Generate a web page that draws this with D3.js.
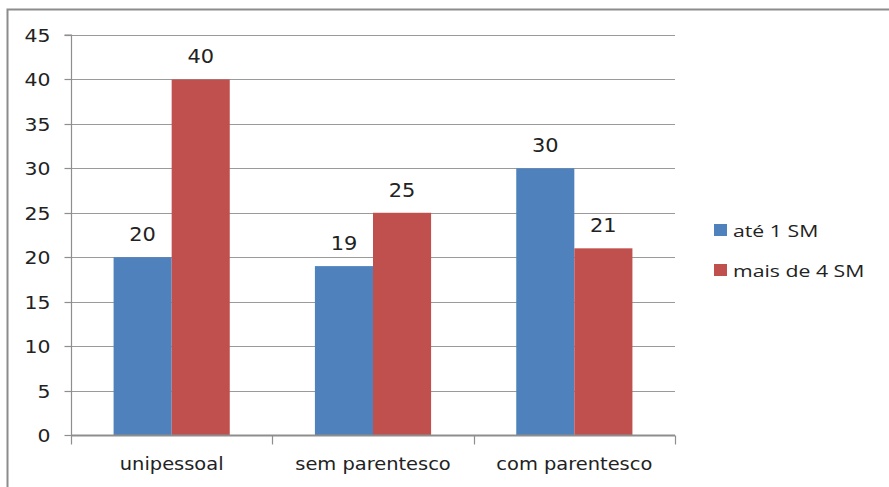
<!DOCTYPE html>
<html><head><meta charset="utf-8">
<script src="https://cdn.jsdelivr.net/npm/d3@7/dist/d3.min.js"></script>
<style>body{margin:0;background:#fff}svg{display:block}</style>
</head><body>
<script>
const categories = ["unipessoal", "sem parentesco", "com parentesco"];
const seriesNames = ["até 1 SM", "mais de 4 SM"];
const ate1SM = [20, 19, 30];
const mais4SM = [40, 25, 21];
const yTicks = [0, 5, 10, 15, 20, 25, 30, 35, 40, 45];
const colors = ["#4F81BD", "#C0504D"];

(function () {
const W = 889, H = 487;
const svg = d3.select("body").append("svg").attr("width", W).attr("height", H);

// frame
svg.append("path").attr("d", `M7.5,${H}V9.5H${W}`).attr("fill", "none")
  .attr("stroke", "#8c8c8c").attr("stroke-width", 2);

const pL = 71, pR = 675, pT = 35, pB = 435;
const x0 = d3.scaleBand().domain(categories).range([pL, pR]).paddingInner(0.423).paddingOuter(0.2115);
const x1 = d3.scaleBand().domain(seriesNames).range([0, x0.bandwidth()]);
const y = d3.scaleLinear().domain([0, 45]).range([pB, pT]);
const xCat = d3.scaleBand().domain(categories).range([pL, pR]);

// stretched text helper (the reference is horizontally stretched)
function stretch(sel, sx) {
  sel.each(function () {
    const t = d3.select(this);
    const x = +t.attr("x") || 0;
    t.attr("x", x / sx).attr("transform", `scale(${sx},1)`);
  });
}

// gridlines
svg.append("g").selectAll("line").data(yTicks.filter(d => d > 0)).join("line")
  .attr("x1", pL).attr("x2", pR)
  .attr("y1", d => Math.round(y(d)) + 0.5).attr("y2", d => Math.round(y(d)) + 0.5)
  .attr("stroke", "#9a9a9a").attr("stroke-width", 1.2);

// y axis
const yAxis = svg.append("g").attr("transform", `translate(${pL + 0.5},0)`)
  .call(d3.axisLeft(y).tickValues(yTicks).tickSize(7).tickPadding(14));
yAxis.select(".domain").attr("stroke", "#8e8e8e").attr("stroke-width", 1.2).attr("d", `M-7,${pT}H0V${pB}`);
yAxis.selectAll(".tick line").attr("stroke", "#8e8e8e").attr("stroke-width", 1.2);
yAxis.selectAll(".tick").attr("transform", d => `translate(0,${Math.round(y(d)) + 0.5})`);
yAxis.selectAll("text").attr("font-family", "DejaVu Sans").attr("font-size", 17).attr("fill", "#222")
  .attr("dy", "0.36em");
yAxis.selectAll("text").call(stretch, 1.2);

// bars
const data = categories.map((c, i) => ({cat: c, vals: [ate1SM[i], mais4SM[i]]}));
const groups = svg.append("g").selectAll("g").data(data).join("g")
  .attr("transform", d => `translate(${x0(d.cat)},0)`);
groups.selectAll("rect").data(d => d.vals.map((v, j) => ({s: seriesNames[j], v, j}))).join("rect")
  .attr("x", d => x1(d.s)).attr("width", x1.bandwidth())
  .attr("y", d => y(d.v)).attr("height", d => pB - y(d.v))
  .attr("fill", d => colors[d.j]);
groups.selectAll("text").data(d => d.vals.map((v, j) => ({s: seriesNames[j], v, j}))).join("text")
  .attr("x", d => x1(d.s) + x1.bandwidth() / 2).attr("y", d => y(d.v) - 16)
  .attr("text-anchor", "middle").attr("font-family", "DejaVu Sans").attr("font-size", 19)
  .attr("fill", "#222").text(d => d.v)
  .call(stretch, 1.1);

// x axis
const xAxis = svg.append("g").attr("transform", `translate(0,${pB + 0.5})`)
  .call(d3.axisBottom(xCat).tickSize(0).tickPadding(0));
xAxis.select(".domain").attr("stroke", "#8e8e8e").attr("stroke-width", 2).attr("d", `M${pL},0H${pR}`);
xAxis.selectAll("text").attr("font-family", "Liberation Sans Narrow, DejaVu Sans Condensed, sans-serif")
  .attr("font-size", 18).attr("fill", "#222").attr("dy", null).attr("y", 35)
  .call(stretch, 1.2);
xAxis.append("g").selectAll("line").data([0, 1, 2, 3]).join("line")
  .attr("x1", i => Math.round(pL + i * xCat.step()) + 0.5).attr("x2", i => Math.round(pL + i * xCat.step()) + 0.5)
  .attr("y1", 0).attr("y2", 9).attr("stroke", "#8e8e8e").attr("stroke-width", 1.2);

// legend
const lg = svg.append("g").attr("transform", "translate(714,224)");
const li = lg.selectAll("g").data(seriesNames).join("g").attr("transform", (d, i) => `translate(0,${i * 40})`);
li.append("rect").attr("width", 13).attr("height", 12).attr("fill", (d, i) => colors[i]);
li.append("text").attr("x", 19).attr("y", 13).attr("font-family", "Open Sans, sans-serif")
  .attr("font-size", 17).attr("fill", "#222").text(d => d)
  .call(stretch, 1.25);
})();
</script>
</body></html>
